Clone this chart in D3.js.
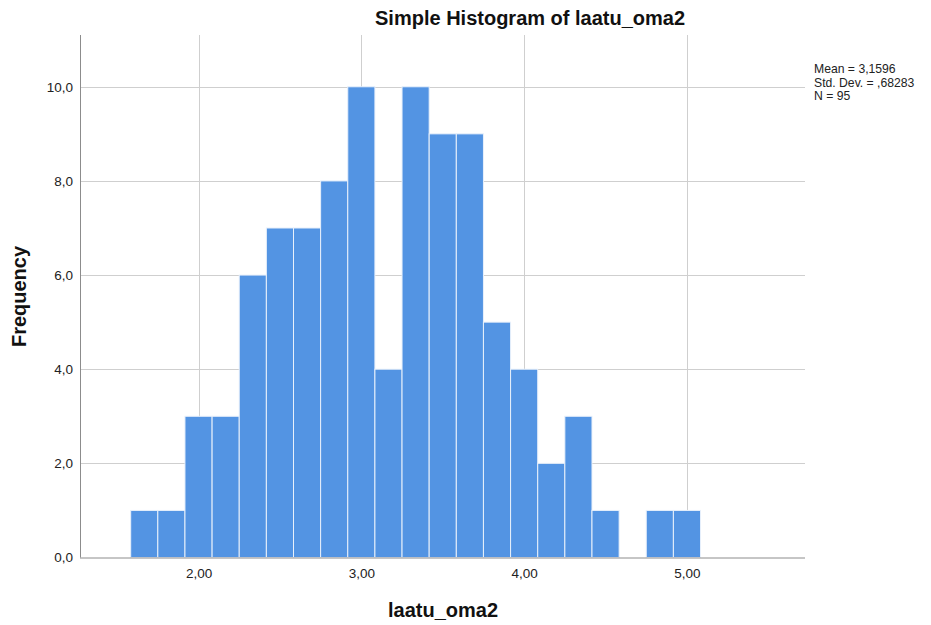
<!DOCTYPE html>
<html>
<head>
<meta charset="utf-8">
<script src="https://cdn.jsdelivr.net/npm/d3@7"></script>
<style>
  html, body { margin: 0; padding: 0; background: #fff; }
  svg { display: block; font-family: "Liberation Sans", Arial, sans-serif; }
</style>
</head>
<body>
<svg id="chart" width="931" height="625"></svg>
<script>
// Bin midpoints (bin width 1/6) and frequencies for laatu_oma2
const binMids = [1.6667, 1.8333, 2.0, 2.1667, 2.3333, 2.5, 2.6667, 2.8333, 3.0, 3.1667,
                 3.3333, 3.5, 3.6667, 3.8333, 4.0, 4.1667, 4.3333, 4.5, 4.6667, 4.8333, 5.0];
const counts  = [1, 1, 3, 3, 6, 7, 7, 8, 10, 4,
                 10, 9, 9, 5, 4, 2, 3, 1, 0, 1, 1];
const binWidth = 1 / 6;
const xTicks = [2, 3, 4, 5];
const yTicks = [0, 2, 4, 6, 8, 10];
const statsLines = ["Mean = 3,1596", "Std. Dev. = ,68283", "N = 95"];

const svg = d3.select("#chart");
const plotLeft = 80, plotRight = 805, plotTop = 35, plotBottom = 557.5;

const x = d3.scaleLinear().domain([1.272, 5.725]).range([plotLeft, plotRight]);
const y = d3.scaleLinear().domain([0, 11.1]).range([plotBottom, plotTop]);

const fmtX = v => d3.format(".2f")(v).replace(".", ",");
const fmtY = v => d3.format(".1f")(v).replace(".", ",");

// grid lines
const grid = svg.append("g").attr("stroke", "#cfcfcf").attr("stroke-width", 1);
grid.selectAll("line.h").data(yTicks.filter(d => d > 0)).join("line").attr("class", "h")
  .attr("x1", plotLeft).attr("x2", plotRight)
  .attr("y1", d => Math.round(y(d)) + 0.5).attr("y2", d => Math.round(y(d)) + 0.5);
grid.selectAll("line.v").data(xTicks).join("line").attr("class", "v")
  .attr("x1", d => Math.round(x(d)) + 0.5).attr("x2", d => Math.round(x(d)) + 0.5)
  .attr("y1", plotTop).attr("y2", plotBottom);

// bars
svg.append("g").selectAll("rect")
  .data(binMids.map((m, i) => ({ m, c: counts[i] })).filter(d => d.c > 0))
  .join("rect")
  .attr("x", d => x(d.m - binWidth / 2))
  .attr("width", d => x(d.m + binWidth / 2) - x(d.m - binWidth / 2))
  .attr("y", d => y(d.c))
  .attr("height", d => y(0) - y(d.c))
  .attr("fill", "#5394e3")
  .attr("stroke", "#e8f0fb")
  .attr("stroke-width", 1);

// axes
const yAxis = d3.axisLeft(y).tickValues(yTicks).tickFormat(fmtY).tickSize(0).tickPadding(7);
const gy = svg.append("g").attr("transform", `translate(${plotLeft},0)`).call(yAxis);
gy.select(".domain").attr("stroke", "#8c8c8c").attr("d", `M0.5,${plotTop}V${plotBottom}`);
gy.selectAll("text").attr("font-size", 13.5).attr("fill", "#222").attr("font-family", "Liberation Sans, Arial, sans-serif");

const xAxis = d3.axisBottom(x).tickValues(xTicks).tickFormat(fmtX).tickSize(0).tickPadding(11);
const gx = svg.append("g").attr("transform", `translate(0,${plotBottom})`).call(xAxis);
gx.select(".domain").attr("stroke", "#8c8c8c").attr("d", `M${plotLeft},0.5H${plotRight}`);
gx.selectAll("text").attr("font-size", 13.5).attr("fill", "#222").attr("font-family", "Liberation Sans, Arial, sans-serif");

// titles
svg.append("text").attr("x", 375).attr("y", 25).attr("text-anchor", "start")
  .attr("font-size", 20).attr("font-weight", "bold").attr("fill", "#111")
  .text("Simple Histogram of laatu_oma2");
svg.append("text").attr("x", 443).attr("y", 617).attr("text-anchor", "middle")
  .attr("font-size", 20).attr("font-weight", "bold").attr("fill", "#111")
  .text("laatu_oma2");
svg.append("text").attr("transform", "translate(26,296.5) rotate(-90)").attr("text-anchor", "middle")
  .attr("font-size", 20).attr("font-weight", "bold").attr("fill", "#111")
  .text("Frequency");

// summary statistics
svg.append("g").selectAll("text").data(statsLines).join("text")
  .attr("x", 814).attr("y", (d, i) => 73 + i * 13.5)
  .attr("font-size", 12.2).attr("fill", "#222")
  .text(d => d);
</script>
</body>
</html>
